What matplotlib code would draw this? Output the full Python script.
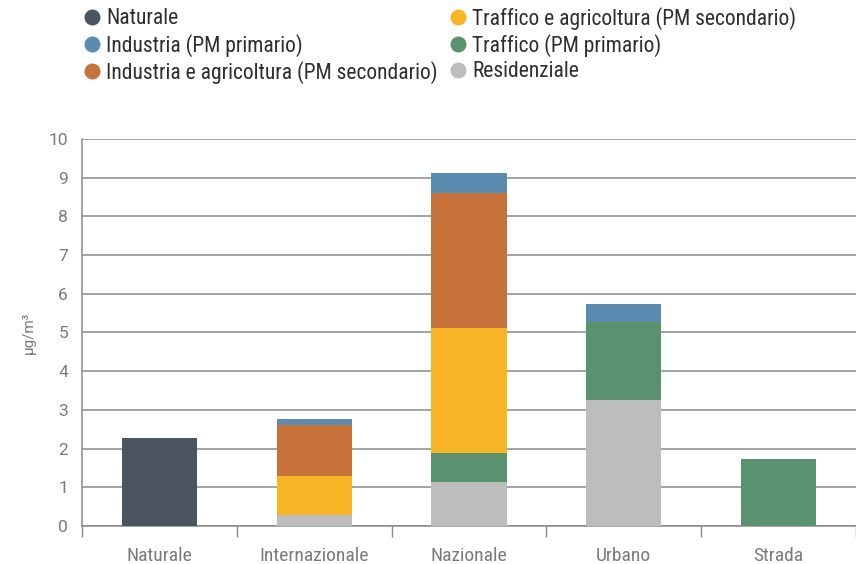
import numpy as np
import matplotlib
matplotlib.use("Agg")
import matplotlib.pyplot as plt
from matplotlib.lines import Line2D

cond = ['Roboto Condensed', 'Liberation Sans Narrow', 'Arial Narrow', 'Liberation Sans', 'DejaVu Sans']
plt.rcParams['font.family'] = cond

categories = ["Naturale", "Internazionale", "Nazionale", "Urbano", "Strada"]
series_names = ["Naturale", "Industria (PM primario)",
                "Industria e agricoltura (PM secondario)",
                "Traffico e agricoltura (PM secondario)",
                "Traffico (PM primario)", "Residenziale"]
colors = {"Naturale": "#4a5560",
          "Industria (PM primario)": "#5b8cb0",
          "Industria e agricoltura (PM secondario)": "#c6723a",
          "Traffico e agricoltura (PM secondario)": "#f7b526",
          "Traffico (PM primario)": "#5a9270",
          "Residenziale": "#bdbdbd"}

# values per category, ug/m3
naturale = [2.27, 0, 0, 0, 0]
residenziale = [0, 0.28, 1.14, 3.26, 0]
traffico_prim = [0, 0, 0.75, 2.0, 1.73]
traffico_sec = [0, 1.01, 3.23, 0, 0]
industria_sec = [0, 1.32, 3.48, 0, 0]
industria_prim = [0, 0.16, 0.51, 0.48, 0]

# bottom to top
stack = [("Naturale", naturale),
         ("Residenziale", residenziale),
         ("Traffico (PM primario)", traffico_prim),
         ("Traffico e agricoltura (PM secondario)", traffico_sec),
         ("Industria e agricoltura (PM secondario)", industria_sec),
         ("Industria (PM primario)", industria_prim)]

fig = plt.figure(figsize=(8.56, 5.64), dpi=100)
ax = fig.add_axes([82/856, 1-526/564, 774/856, (526-139)/564])

x = np.arange(len(categories)) + 0.5
bottom = np.zeros(len(categories))
for name, vals in stack:
    vals = np.array(vals)
    ax.bar(x, vals, width=0.485, bottom=bottom, color=colors[name], zorder=3, linewidth=0)
    bottom += vals

ax.set_xlim(0, 5)
ax.set_ylim(0, 10)
ax.set_yticks(range(0, 11))
ax.yaxis.grid(True, color="#8a8a8a", linewidth=1.1, zorder=0)
ax.tick_params(axis='y', length=0, pad=10, labelsize=12.5, labelcolor="#7a7a7a")
for lab in ax.get_yticklabels():
    lab.set_family(['Roboto', 'DejaVu Sans'])

ax.set_xticks(x)
ax.set_xticklabels(categories)
ax.set_xticks(np.arange(0, 6), minor=True)
ax.tick_params(axis='x', which='major', length=0, pad=15, labelsize=14, labelcolor="#7a7a7a")
ax.tick_params(axis='x', which='minor', length=8, width=1, color="#8a8a8a")

for s in ['top', 'right']:
    ax.spines[s].set_visible(False)
for s in ['left', 'bottom']:
    ax.spines[s].set_color("#8a8a8a")
    ax.spines[s].set_linewidth(1.1)

ax.set_ylabel("µg/m³", color="#7a7a7a", fontsize=11, family=['Roboto', 'DejaVu Sans'], labelpad=9)

handles = [Line2D([], [], marker='o', linestyle='none', markersize=10.5,
                  markerfacecolor=colors[n], markeredgecolor=colors[n]) for n in series_names]
fig.legend(handles, series_names, ncol=2, loc='upper left',
           bbox_to_anchor=(76/856, 1+2/564), frameon=False, fontsize=15.5,
           labelcolor="#2e2e2e", handlelength=0.7, handletextpad=0.3,
           columnspacing=0.6, labelspacing=0.2, borderaxespad=0)

fig.savefig("out.png", dpi=100)
